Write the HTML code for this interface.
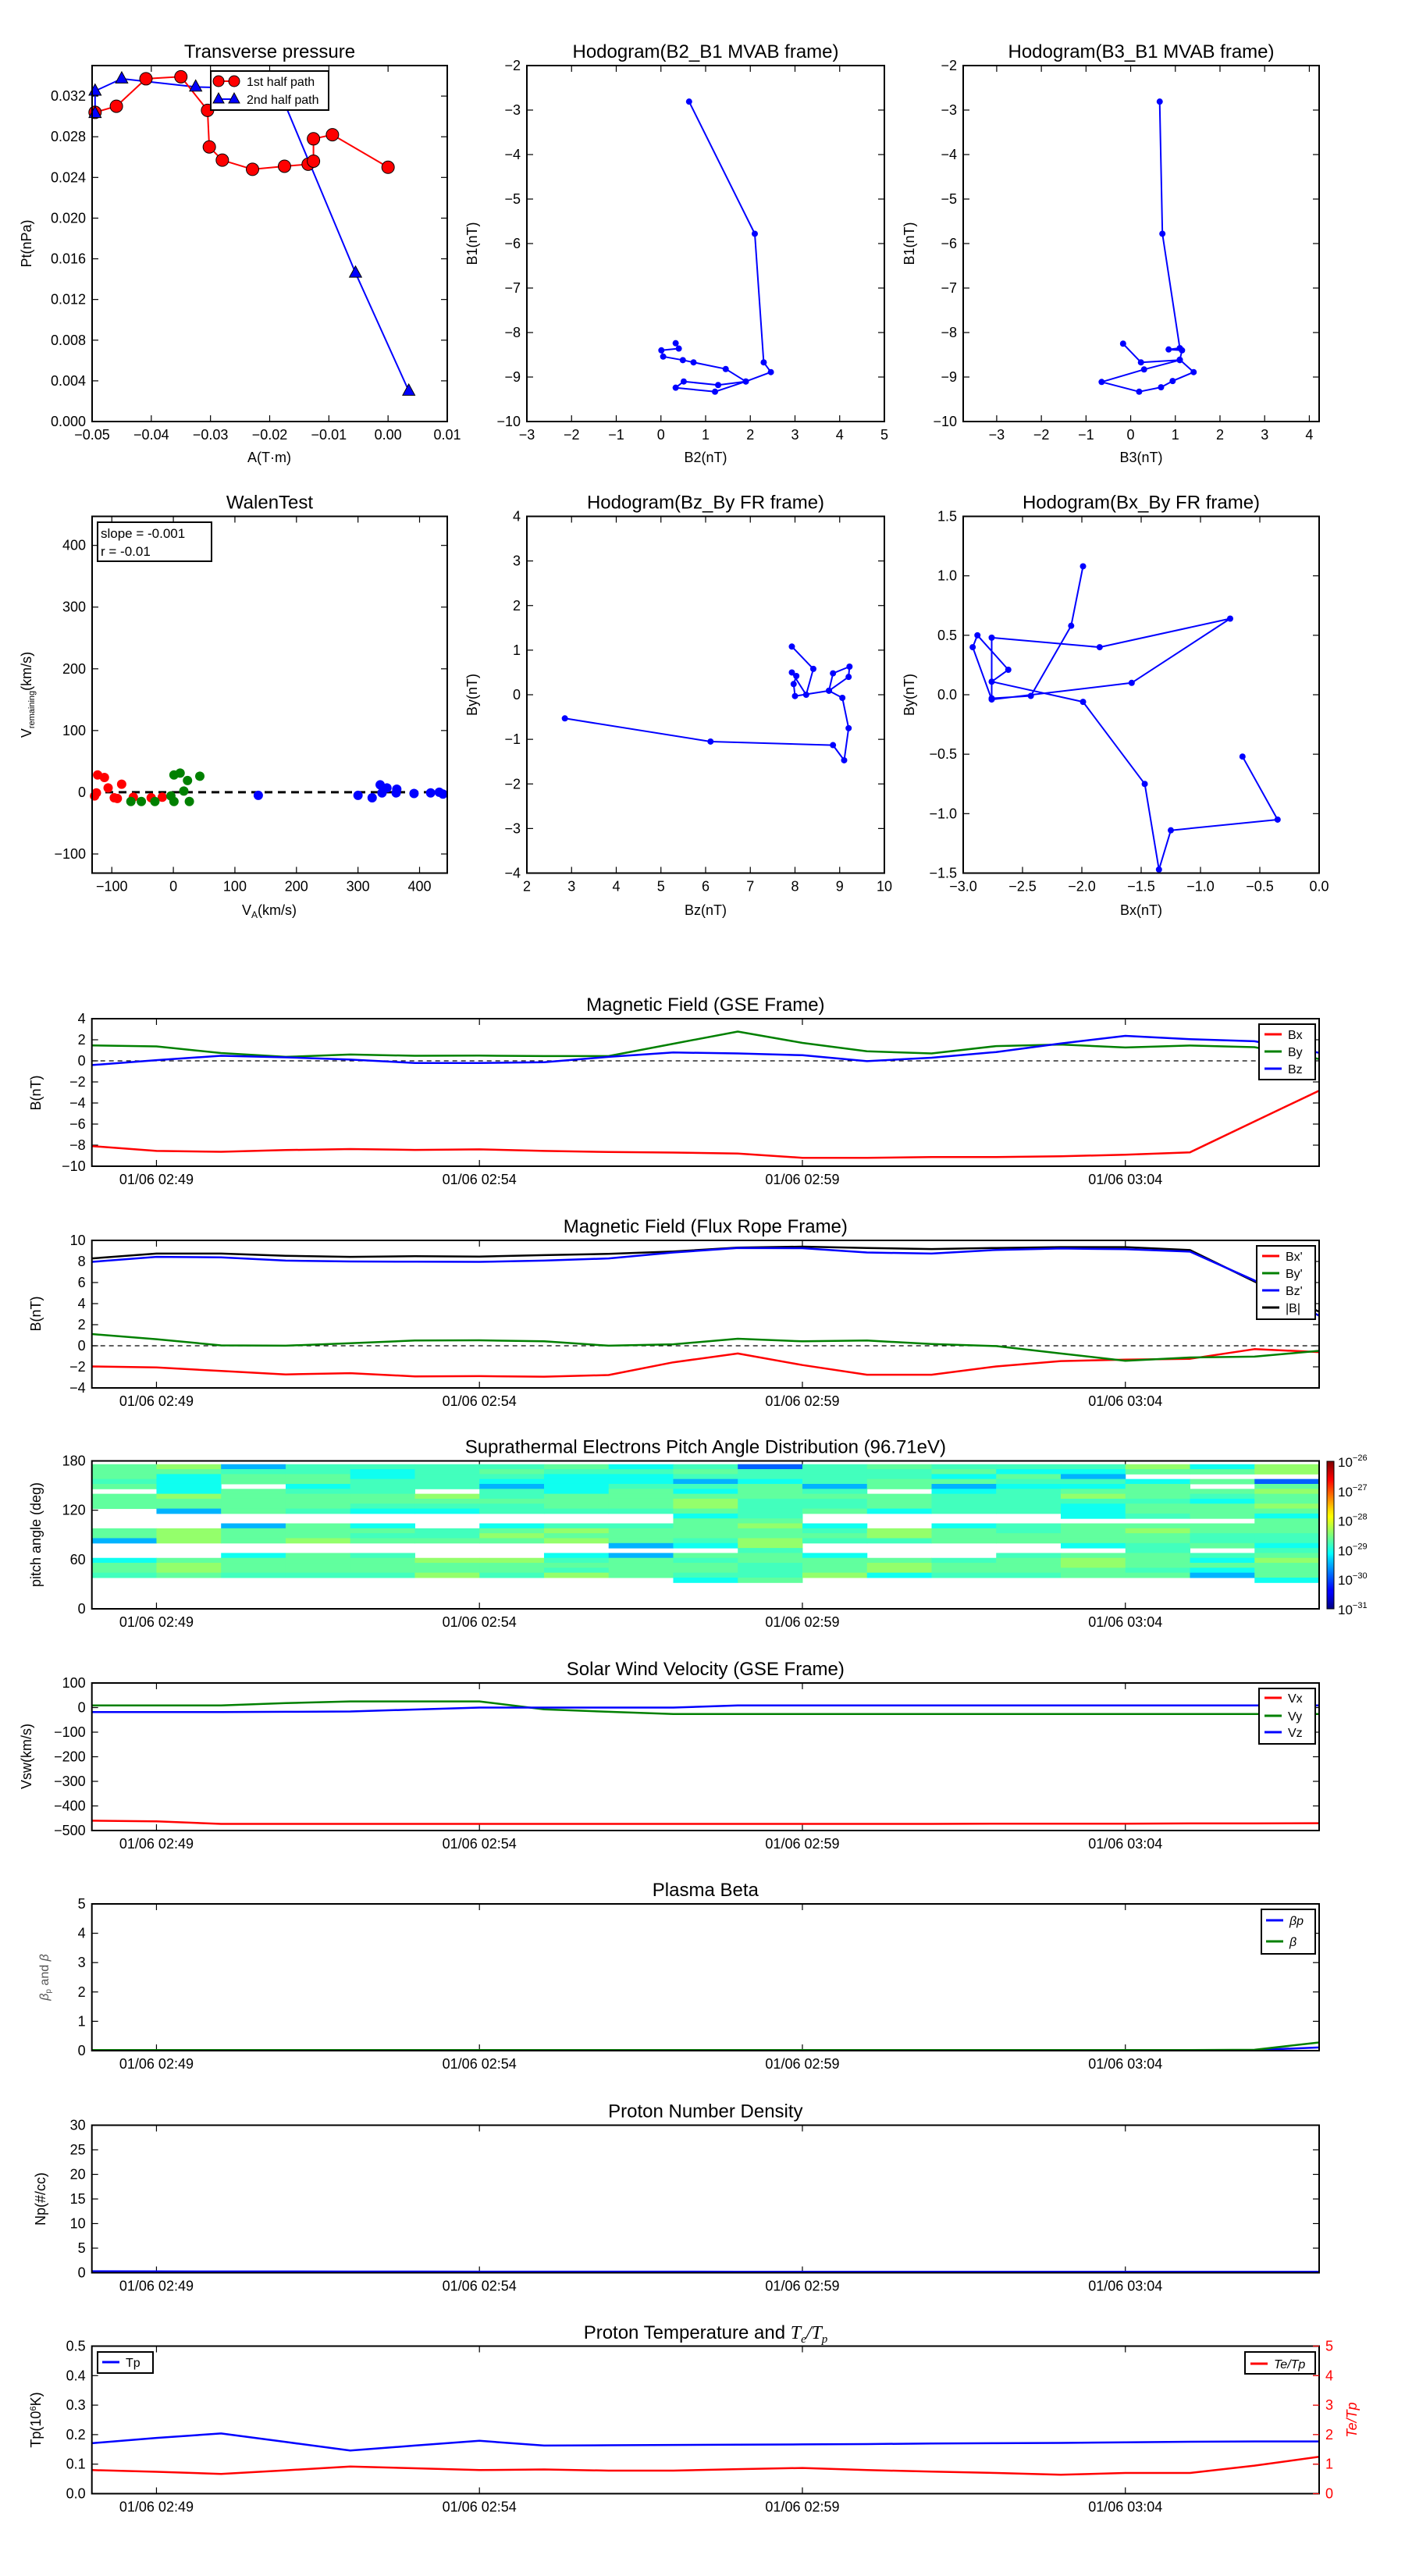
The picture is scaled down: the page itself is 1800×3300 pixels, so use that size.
<!DOCTYPE html>
<html><head><meta charset="utf-8"><title>Flux rope analysis</title>
<style>
html,body{margin:0;padding:0;background:#fff;}
svg{display:block;font-family:"Liberation Sans","DejaVu Sans",sans-serif;}
</style></head>
<body>
<svg id="chart" width="1800" height="3300" viewBox="0 0 1800 3300" xmlns="http://www.w3.org/2000/svg"></svg>
<script>
// ---------- DATA ----------
const ptRedA=[-0.0495,-0.0459,-0.0409,-0.0350,-0.0305,-0.0302,-0.0280,-0.0229,-0.0175,-0.0135,-0.0126,-0.0126,-0.0094,0.0000];
const ptRedP=[0.0304,0.0310,0.0337,0.0339,0.0306,0.0270,0.0257,0.0248,0.0251,0.0253,0.0256,0.0278,0.0282,0.0250];
const ptBlueA=[-0.0495,-0.0495,-0.0450,-0.0325,-0.0185,-0.0055,0.0035];
const ptBlueP=[0.0303,0.0325,0.0337,0.0329,0.0327,0.0146,0.0030];
const h1B2=[0.63,2.10,2.30,2.46,1.90,1.28,0.51,0.33,1.21,1.90,1.45,0.73,0.49,0.05,0.01,0.40,0.33];
const h1B1=[-2.81,-5.78,-8.67,-8.89,-9.10,-9.18,-9.10,-9.24,-9.33,-9.10,-8.82,-8.67,-8.62,-8.54,-8.40,-8.36,-8.24];
const h2B3=[0.65,0.71,1.10,0.85,1.15,1.10,1.41,0.94,0.68,0.19,-0.65,0.30,1.10,0.23,-0.17];
const h2B1=[-2.81,-5.78,-8.35,-8.38,-8.40,-8.61,-8.89,-9.09,-9.23,-9.33,-9.11,-8.83,-8.62,-8.67,-8.25];
const walRedX=[-128,-123,-112,-106,-84,-96,-65,-36,-18,-125,-91];
const walRedY=[-6,28,24,7,13,-9,-8,-9,-8,-1,-10];
const walGreenX=[1,11,23,43,17,1,26,-69,-52,-30,-4];
const walGreenY=[28,31,19,26,2,-15,-15,-15,-15,-15,-6];
const walBlueX=[138,300,323,336,339,347,363,362,391,418,432,438];
const walBlueY=[-5,-5,-9,12,-1,7,5,-1,-2,-1,0,-3];
const fzBz=[2.85,6.11,8.85,9.10,9.20,9.06,8.76,9.20,9.22,8.85,8.76,8.00,7.97,8.03,7.93,8.25,8.41,7.93];
const fzBy=[-0.53,-1.05,-1.13,-1.47,-0.75,-0.07,0.09,0.40,0.63,0.48,0.09,-0.03,0.24,0.42,0.50,0.00,0.58,1.08];
const fxBx=[-0.646,-0.35,-1.25,-1.35,-1.47,-1.99,-2.76,-2.62,-2.88,-2.92,-2.76,-1.58,-0.75,-1.85,-2.76,-2.76,-2.43,-2.09,-1.99];
const fxBy=[-0.52,-1.05,-1.14,-1.47,-0.75,-0.06,0.11,0.21,0.50,0.40,-0.04,0.10,0.64,0.40,0.48,-0.03,-0.01,0.58,1.08];
const timeIdx=[0,1,2,3,4,5,6,7,8,9,10,11,12,13,14,15,16,17,18,19];
const timeTicks=[1,6,11,16];
const timeLabels=['01/06 02:49','01/06 02:54','01/06 02:59','01/06 03:04'];
const gseBx=[-8.09,-8.55,-8.63,-8.47,-8.37,-8.45,-8.40,-8.55,-8.65,-8.70,-8.80,-9.20,-9.20,-9.13,-9.13,-9.06,-8.90,-8.68,-5.75,-2.83];
const gseBy=[1.47,1.37,0.74,0.38,0.60,0.48,0.50,0.45,0.45,1.62,2.78,1.70,0.90,0.70,1.40,1.55,1.27,1.45,1.30,0.18];
const gseBz=[-0.40,0.07,0.48,0.33,0.12,-0.20,-0.20,-0.13,0.38,0.79,0.70,0.53,-0.03,0.30,0.84,1.65,2.37,2.06,1.86,0.76];
const frBx=[-1.96,-2.06,-2.39,-2.72,-2.60,-2.90,-2.88,-2.93,-2.78,-1.57,-0.73,-1.83,-2.75,-2.75,-1.96,-1.45,-1.32,-1.24,-0.32,-0.60];
const frBy=[1.11,0.62,0.04,0.01,0.24,0.50,0.52,0.42,0.01,0.14,0.67,0.42,0.50,0.17,-0.03,-0.73,-1.42,-1.11,-1.03,-0.48];
const frBz=[7.96,8.44,8.39,8.08,8.00,7.98,7.96,8.08,8.29,8.85,9.28,9.26,8.85,8.75,9.10,9.23,9.16,8.93,6.20,2.85];
const frBt=[8.29,8.75,8.75,8.54,8.44,8.50,8.47,8.60,8.72,8.95,9.31,9.41,9.28,9.18,9.28,9.36,9.36,9.08,6.10,3.23];
const padCols=[
"gggtg.ggg....ggb...cggt.","ygccccyggb...yyy...gyyg.","btgg.ggggg..bggg..cgggt.","ttggctgggt..gggy..ggggt.",
"tcctttggtc..cgtg..tgggt.","ttttt.ygtc...ttg...yggy.","tgtcbttgtt..cgyg...yggt.","gtccccgggt..tygy..ctgty.",
"ctcctggggt..tgggb.bgggg.","tgtbtcgyygcggggtc.gtggtc","dttcgggttttgyggyytggtttg","ttttbtgttg..ctgt..cgggy.",
"gttgg.gggc...yyt...gyyc.","tgcgbctttt..cggg...tggt.","tcgtcttttt..ttgg..tgggt.","tcbtcgytccc.ggggc.gyygg.",
"yg.cgggtggt.gyggttgggtg.","cg.g.gtcggg.ggttg.tcgcb.","yy.dgyggygcgggttctgygggc"];
const padLevels={y:-28.4,g:-28.65,t:-28.8,c:-29.05,b:-29.5,d:-29.9};
const vx=[-460,-463,-473,-473,-473,-473,-473,-473,-473,-473,-473,-473,-473,-473,-472,-472,-472,-471,-471,-470];
const vy=[9,9,9,18,25,25,25,-7,-17,-26,-26,-26,-26,-26,-26,-26,-26,-26,-26,-26];
const vz=[-18,-18,-18,-17,-16,-8,0,0,0,0,9,9,9,9,9,9,9,9,9,9];
const betaP=[0.01,0.01,0.01,0.01,0.01,0.01,0.01,0.01,0.01,0.01,0.01,0.01,0.01,0.01,0.01,0.01,0.01,0.01,0.02,0.11];
const betaT=[0.02,0.02,0.02,0.02,0.02,0.02,0.02,0.02,0.02,0.02,0.02,0.02,0.02,0.02,0.02,0.02,0.02,0.02,0.03,0.28];
const np=[0.3,0.28,0.25,0.25,0.24,0.24,0.23,0.22,0.22,0.22,0.21,0.21,0.21,0.21,0.21,0.21,0.21,0.2,0.2,0.2];
const tp=[0.171,0.189,0.204,0.175,0.146,0.163,0.179,0.163,0.164,0.165,0.166,0.167,0.168,0.170,0.171,0.172,0.174,0.176,0.177,0.177];
const teTp=[0.80,0.74,0.67,0.79,0.92,0.86,0.80,0.82,0.78,0.78,0.83,0.87,0.80,0.75,0.70,0.64,0.70,0.70,0.95,1.25];

// ---------- HELPERS ----------
const NS='http://www.w3.org/2000/svg';
const svg=document.getElementById('chart');
function mk(tag,attrs,name,parent){
  const e=document.createElementNS(NS,tag);
  for(const k in attrs) e.setAttribute(k,attrs[k]);
  
  
  (parent||svg).appendChild(e);
  return e;
}
function txt(x,y,s,size,name,extra){
  const a=Object.assign({x:x,y:y,'font-size':size,fill:'#000'},extra||{});
  const e=mk('text',a,name);
  e.textContent=s;
  return e;
}
function fmt(v){return String(v).replace('-','\u2212');}
function axes(o){
  const ax={};
  ax.sx=v=>o.L+(v-o.xmin)/(o.xmax-o.xmin)*(o.R-o.L);
  ax.sy=v=>o.B-(v-o.ymin)/(o.ymax-o.ymin)*(o.B-o.T);
  const g=mk('g',{},o.name+'-ticks');
  (o.xt||[]).forEach((v,i)=>{
    const x=ax.sx(v);
    mk('line',{x1:x,x2:x,y1:o.B,y2:o.B-8,stroke:'#000','stroke-width':1.2},'x-tick',g);
    mk('line',{x1:x,x2:x,y1:o.T,y2:o.T+8,stroke:'#000','stroke-width':1.2},'x-tick',g);
    const t=txt(x,o.B+23,o.xl?o.xl[i]:fmt(v),18,'x-tick-label',{'text-anchor':'middle'});
  });
  (o.yt||[]).forEach((v,i)=>{
    const y=ax.sy(v);
    mk('line',{x1:o.L,x2:o.L+8,y1:y,y2:y,stroke:'#000','stroke-width':1.2},'y-tick',g);
    mk('line',{x1:o.R,x2:o.R-8,y1:y,y2:y,stroke:o.rcol||'#000','stroke-width':1.2},'y-tick',g);
    txt(o.L-8,y+6,o.yl?o.yl[i]:fmt(v),18,'y-tick-label',{'text-anchor':'end'});
  });
  if(o.title) txt((o.L+o.R)/2,o.T-10,o.title,24,o.name+'-title',{'text-anchor':'middle'});
  ax.clipId=o.name+'-clip';
  const cp=mk('clipPath',{id:ax.clipId},o.name+'-clip');
  mk('rect',{x:o.L,y:o.T,width:o.R-o.L,height:o.B-o.T},'clip-rect',cp);
  ax.o=o;
  return ax;
}
function frame(ax,name){
  const o=ax.o;
  mk('rect',{x:o.L,y:o.T,width:o.R-o.L,height:o.B-o.T,fill:'none',stroke:'#000','stroke-width':2},name);
}
function line(ax,xs,ys,color,w,name,dash){
  const pts=xs.map((x,i)=>ax.sx(x).toFixed(1)+','+ax.sy(ys[i]).toFixed(1)).join(' ');
  const a={points:pts,fill:'none',stroke:color,'stroke-width':w,'clip-path':'url(#'+ax.clipId+')','stroke-linejoin':'round'};
  if(dash) a['stroke-dasharray']=dash;
  return mk('polyline',a,name);
}
function dots(ax,xs,ys,color,r,name,stroke){
  xs.forEach((x,i)=>{
    const a={cx:ax.sx(x),cy:ax.sy(ys[i]),r:r,fill:color};
    if(stroke){a.stroke=stroke;a['stroke-width']=1;}
    mk('circle',a,name);
  });
}
function tris(ax,xs,ys,color,s,name){
  xs.forEach((x,i)=>{
    const cx=ax.sx(x),cy=ax.sy(ys[i]);
    mk('polygon',{points:`${cx},${cy-s} ${cx-s*0.87},${cy+s*0.6} ${cx+s*0.87},${cy+s*0.6}`,fill:color,stroke:'#000','stroke-width':1},name);
  });
}
function ylabel(x,y,s,name,size,color){
  const t=txt(x,y,s,size||18,name,{'text-anchor':'middle',transform:`rotate(-90 ${x} ${y})`,fill:color||'#000'});
  return t;
}
function legend(x0,y0,x1,y1,entries,name){
  mk('rect',{x:x0,y:y0,width:x1-x0,height:y1-y0,fill:'#fff',stroke:'#000','stroke-width':2},name);
  entries.forEach(en=>{
    mk('line',{x1:en.lx,x2:en.lx+22,y1:en.y,y2:en.y,stroke:en.c,'stroke-width':3},'legend-line');
    const t=txt(en.lx+30,en.y+6,en.t,16,'legend-label',{'font-style':en.it?'italic':'normal'});
  });
}

// ---------- TOP ROW ----------
const a1=axes({name:'transverse-pressure',L:118,R:573,T:84,B:540,xmin:-0.05,xmax:0.01,ymin:0,ymax:0.035,
  xt:[-0.05,-0.04,-0.03,-0.02,-0.01,0,0.01],xl:['\u22120.05','\u22120.04','\u22120.03','\u22120.02','\u22120.01','0.00','0.01'],
  yt:[0,0.004,0.008,0.012,0.016,0.02,0.024,0.028,0.032],yl:['0.000','0.004','0.008','0.012','0.016','0.020','0.024','0.028','0.032'],title:'Transverse pressure'});
line(a1,ptBlueA,ptBlueP,'#0000ff',2,'second-half-path-line');
line(a1,ptRedA,ptRedP,'#ff0000',2,'first-half-path-line');
dots(a1,ptRedA,ptRedP,'#ff0000',8,'first-half-point','#000');
tris(a1,ptBlueA,ptBlueP,'#0000ff',9,'second-half-point');
frame(a1,'transverse-pressure-frame');
mk('rect',{x:270,y:91,width:151,height:50,fill:'#fff',stroke:'#000','stroke-width':2},'transverse-legend');
mk('line',{x1:280,x2:300,y1:104,y2:104,stroke:'#ff0000','stroke-width':2},'legend-line');
mk('circle',{cx:280,cy:104,r:7,fill:'#ff0000',stroke:'#000'},'legend-marker');
mk('circle',{cx:300,cy:104,r:7,fill:'#ff0000',stroke:'#000'},'legend-marker');
txt(316,110,'1st half path',16,'legend-label');
mk('line',{x1:280,x2:300,y1:127,y2:127,stroke:'#0000ff','stroke-width':2},'legend-line');
mk('polygon',{points:'280,119 273,132 287,132',fill:'#0000ff',stroke:'#000'},'legend-marker');
mk('polygon',{points:'300,119 293,132 307,132',fill:'#0000ff',stroke:'#000'},'legend-marker');
txt(316,133,'2nd half path',16,'legend-label');
ylabel(40,312,'Pt(nPa)','y-axis-title');
txt(345,592,'A(T\u00b7m)',18,'x-axis-title',{'text-anchor':'middle'});

const a2=axes({name:'hodogram-b2-b1',L:675,R:1133,T:84,B:540,xmin:-3,xmax:5,ymin:-10,ymax:-2,
  xt:[-3,-2,-1,0,1,2,3,4,5],yt:[-10,-9,-8,-7,-6,-5,-4,-3,-2],title:'Hodogram(B2_B1 MVAB frame)'});
line(a2,h1B2,h1B1,'#0000ff',2,'hodogram-b2-b1-line');
dots(a2,h1B2,h1B1,'#0000ff',4,'hodogram-b2-b1-point');
frame(a2,'hodogram-b2-b1-frame');
ylabel(611,312,'B1(nT)','y-axis-title');
txt(904,592,'B2(nT)',18,'x-axis-title',{'text-anchor':'middle'});

const a3=axes({name:'hodogram-b3-b1',L:1234,R:1690,T:84,B:540,xmin:-3.75,xmax:4.22,ymin:-10,ymax:-2,
  xt:[-3,-2,-1,0,1,2,3,4],yt:[-10,-9,-8,-7,-6,-5,-4,-3,-2],title:'Hodogram(B3_B1 MVAB frame)'});
line(a3,h2B3,h2B1,'#0000ff',2,'hodogram-b3-b1-line');
dots(a3,h2B3,h2B1,'#0000ff',4,'hodogram-b3-b1-point');
frame(a3,'hodogram-b3-b1-frame');
ylabel(1171,312,'B1(nT)','y-axis-title');
txt(1462,592,'B3(nT)',18,'x-axis-title',{'text-anchor':'middle'});

// ---------- SECOND ROW ----------
const a4=axes({name:'walen-test',L:118,R:573,T:661.5,B:1118.5,xmin:-132,xmax:445,ymin:-131,ymax:447,
  xt:[-100,0,100,200,300,400],yt:[-100,0,100,200,300,400],title:'WalenTest'});
mk('line',{x1:118,x2:573,y1:a4.sy(0),y2:a4.sy(0),stroke:'#000','stroke-width':3,'stroke-dasharray':'10,7'},'walen-fit-line');
dots(a4,walRedX,walRedY,'#ff0000',6,'walen-red-point');
dots(a4,walGreenX,walGreenY,'#008000',6,'walen-green-point');
dots(a4,walBlueX,walBlueY,'#0000ff',6,'walen-blue-point');
frame(a4,'walen-frame');
mk('rect',{x:125,y:669,width:146,height:50,fill:'#fff',stroke:'#000','stroke-width':2},'walen-stats-box');
txt(129,689,'slope = -0.001',17,'walen-slope-text');
txt(129,712,'r = -0.01',17,'walen-r-text');
const yl4=ylabel(40,890,'','y-axis-title');
yl4.innerHTML='V<tspan font-size="11" dy="4">remaining</tspan><tspan dy="-4">(km/s)</tspan>';
const xl4=txt(345,1172,'',18,'x-axis-title',{'text-anchor':'middle'});
xl4.innerHTML='V<tspan font-size="12" dy="4">A</tspan><tspan dy="-4">(km/s)</tspan>';

const a5=axes({name:'hodogram-bz-by',L:675,R:1133,T:661.5,B:1118.5,xmin:2,xmax:10,ymin:-4,ymax:4,
  xt:[2,3,4,5,6,7,8,9,10],yt:[-4,-3,-2,-1,0,1,2,3,4],title:'Hodogram(Bz_By FR frame)'});
line(a5,fzBz,fzBy,'#0000ff',2,'hodogram-bz-by-line');
dots(a5,fzBz,fzBy,'#0000ff',4,'hodogram-bz-by-point');
frame(a5,'hodogram-bz-by-frame');
ylabel(611,890,'By(nT)','y-axis-title');
txt(904,1172,'Bz(nT)',18,'x-axis-title',{'text-anchor':'middle'});

const a6=axes({name:'hodogram-bx-by',L:1234,R:1690,T:661.5,B:1118.5,xmin:-3,xmax:0,ymin:-1.5,ymax:1.5,
  xt:[-3,-2.5,-2,-1.5,-1,-0.5,0],xl:['\u22123.0','\u22122.5','\u22122.0','\u22121.5','\u22121.0','\u22120.5','0.0'],
  yt:[-1.5,-1,-0.5,0,0.5,1,1.5],yl:['\u22121.5','\u22121.0','\u22120.5','0.0','0.5','1.0','1.5'],title:'Hodogram(Bx_By FR frame)'});
line(a6,fxBx,fxBy,'#0000ff',2,'hodogram-bx-by-line');
dots(a6,fxBx,fxBy,'#0000ff',4,'hodogram-bx-by-point');
frame(a6,'hodogram-bx-by-frame');
ylabel(1171,890,'By(nT)','y-axis-title');
txt(1462,1172,'Bx(nT)',18,'x-axis-title',{'text-anchor':'middle'});

// ---------- TIME SERIES ----------
function tsAxes(name,T,B,ymin,ymax,yt,title,yl){
  return axes({name:name,L:117.7,R:1690,T:T,B:B,xmin:0,xmax:19,ymin:ymin,ymax:ymax,xt:timeTicks,xl:timeLabels,yt:yt,yl:yl,title:title});
}
// GSE
const g1=tsAxes('magnetic-field-gse',1305,1494,-10,4,[-10,-8,-6,-4,-2,0,2,4],'Magnetic Field (GSE Frame)');
line(g1,[0,19],[0,0],'#000',1.3,'zero-line','6,5');
line(g1,timeIdx,gseBx,'#ff0000',2.5,'bx-line');
line(g1,timeIdx,gseBy,'#008000',2.5,'by-line');
line(g1,timeIdx,gseBz,'#0000ff',2.5,'bz-line');
frame(g1,'magnetic-field-gse-frame');
legend(1613,1312,1685,1383,[{lx:1620,y:1325,c:'#ff0000',t:'Bx'},{lx:1620,y:1347,c:'#008000',t:'By'},{lx:1620,y:1369,c:'#0000ff',t:'Bz'}],'gse-legend');
ylabel(52,1400,'B(nT)','y-axis-title');
// Flux rope
const g2=tsAxes('magnetic-field-flux-rope',1589,1778,-4,10,[-4,-2,0,2,4,6,8,10],'Magnetic Field (Flux Rope Frame)');
line(g2,[0,19],[0,0],'#000',1.3,'zero-line','6,5');
line(g2,timeIdx,frBx,'#ff0000',2.5,'bx-prime-line');
line(g2,timeIdx,frBy,'#008000',2.5,'by-prime-line');
line(g2,timeIdx,frBt,'#000000',2.5,'b-magnitude-line');
line(g2,timeIdx,frBz,'#0000ff',2.5,'bz-prime-line');
frame(g2,'magnetic-field-flux-rope-frame');
legend(1610,1596,1685,1690,[{lx:1617,y:1609,c:'#ff0000',t:"Bx'"},{lx:1617,y:1631,c:'#008000',t:"By'"},{lx:1617,y:1653,c:'#0000ff',t:"Bz'"},{lx:1617,y:1675,c:'#000',t:'|B|'}],'flux-rope-legend');
ylabel(52,1683,'B(nT)','y-axis-title');
// PAD
function jet(v){
  const f=Math.max(0,Math.min(1,(v+31)/5));
  const c=k=>Math.round(255*Math.max(0,Math.min(1,1.5-Math.abs(4*f-k))));
  return `rgb(${c(3)},${c(2)},${c(1)})`;
}
const g3=tsAxes('pitch-angle-distribution',1871.5,2061,0,180,[0,60,120,180],'Suprathermal Electrons Pitch Angle Distribution (96.71eV)');
padCols.forEach((col,ci)=>{
  for(let r=0;r<col.length;r++){
    const ch=col[r];
    if(ch==='.') continue;
    const top=176-6*r, bot=170-6*r;
    const x0=g3.sx(ci), x1=g3.sx(ci+1);
    mk('rect',{x:x0,y:g3.sy(top),width:x1-x0+0.5,height:g3.sy(bot)-g3.sy(top)+0.5,fill:jet(padLevels[ch])},'pad-cell');
  }
});
frame(g3,'pitch-angle-frame');
ylabel(52,1966,'pitch angle (deg)','y-axis-title');
const grad=mk('linearGradient',{id:'jetgrad',x1:0,y1:1,x2:0,y2:0},'colorbar-gradient');
[[0,'#00007f'],[0.11,'#0000ff'],[0.125,'#0000ff'],[0.34,'#00d4ff'],[0.375,'#00ffff'],[0.5,'#7dff7a'],[0.625,'#ffff00'],[0.66,'#ffe600'],[0.875,'#ff0000'],[1,'#7f0000']].forEach(s=>{
  mk('stop',{offset:s[0],'stop-color':s[1]},'gradient-stop',grad);
});
mk('rect',{x:1700,y:1872,width:9,height:189,fill:'url(#jetgrad)',stroke:'#000','stroke-width':1},'colorbar');
[-26,-27,-28,-29,-30,-31].forEach((e,i)=>{
  const y=1872+i*189/5;
  const t=txt(1714,y+7,'',17,'colorbar-label');
  t.innerHTML='10<tspan font-size="11" dy="-8">\u2212'+(-e)+'</tspan>';
});
// Velocity
const g4=tsAxes('solar-wind-velocity',2156,2345,-500,100,[-500,-400,-300,-200,-100,0,100],'Solar Wind Velocity (GSE Frame)');
line(g4,timeIdx,vx,'#ff0000',2.5,'vx-line');
line(g4,timeIdx,vy,'#008000',2.5,'vy-line');
line(g4,timeIdx,vz,'#0000ff',2.5,'vz-line');
frame(g4,'solar-wind-velocity-frame');
legend(1613,2163,1685,2234,[{lx:1620,y:2175,c:'#ff0000',t:'Vx'},{lx:1620,y:2198,c:'#008000',t:'Vy'},{lx:1620,y:2219,c:'#0000ff',t:'Vz'}],'velocity-legend');
ylabel(40,2250,'Vsw(km/s)','y-axis-title');
// Beta
const g5=tsAxes('plasma-beta',2439,2627,0,5,[0,1,2,3,4,5],'Plasma Beta');
line(g5,timeIdx,betaP,'#0000ff',2.5,'beta-p-line');
line(g5,timeIdx,betaT,'#008000',2.5,'beta-line');
frame(g5,'plasma-beta-frame');
legend(1616,2446,1685,2503,[{lx:1622,y:2460,c:'#0000ff',t:'\u03b2p',it:true},{lx:1622,y:2487,c:'#008000',t:'\u03b2',it:true}],'beta-legend');
const yb=ylabel(62,2533,'','y-axis-title',16,'#555');
yb.innerHTML='<tspan font-style="italic">\u03b2</tspan><tspan font-size="10" dy="3">p</tspan><tspan dy="-3"> and </tspan><tspan font-style="italic">\u03b2</tspan>';
// Np
const g6=tsAxes('proton-number-density',2722.5,2911.5,0,30,[0,5,10,15,20,25,30],'Proton Number Density');
line(g6,timeIdx,np,'#0000ff',2.5,'np-line');
frame(g6,'proton-density-frame');
ylabel(58,2817,'Np(#/cc)','y-axis-title');
// Temperature
const g7=tsAxes('proton-temperature',3005.5,3194.5,0,0.5,[0,0.1,0.2,0.3,0.4,0.5],'',['0.0','0.1','0.2','0.3','0.4','0.5']);
const tt=txt(904,2996,'',24,'proton-temperature-title',{'text-anchor':'middle'});
tt.innerHTML='Proton Temperature and <tspan font-family="Liberation Serif" font-style="italic">T</tspan><tspan font-family="Liberation Serif" font-style="italic" font-size="15" dy="5">e</tspan><tspan font-family="Liberation Serif" font-style="italic" dy="-5">/T</tspan><tspan font-family="Liberation Serif" font-style="italic" font-size="15" dy="5">p</tspan>';
const g7r={sx:g7.sx,sy:v=>3194.5-v/5*189,clipId:g7.clipId};
line(g7,timeIdx,tp,'#0000ff',2.5,'tp-line');
line(g7r,timeIdx,teTp,'#ff0000',2.5,'te-tp-line');
frame(g7,'proton-temperature-frame');
[0,1,2,3,4,5].forEach(v=>{
  const y=g7r.sy(v);
  mk('line',{x1:1690,x2:1682,y1:y,y2:y,stroke:'#ff0000','stroke-width':1.2},'right-y-tick');
  txt(1698,y+6,String(v),18,'right-y-tick-label',{fill:'#ff0000'});
});
legend(125,3013,196,3040,[{lx:131,y:3026,c:'#0000ff',t:'Tp'}],'tp-legend');
legend(1595,3013,1685,3041,[{lx:1602,y:3028,c:'#ff0000',t:'Te/Tp',it:true}],'te-tp-legend');
const ytl=ylabel(52,3100,'','y-axis-title');
ytl.innerHTML='Tp(10<tspan font-size="11" dy="-6">6</tspan><tspan dy="6">K)</tspan>';
const ytr=ylabel(1738,3100,'Te/Tp','right-y-axis-title',18,'#ff0000');
ytr.setAttribute('font-style','italic');
</script>
</body></html>
